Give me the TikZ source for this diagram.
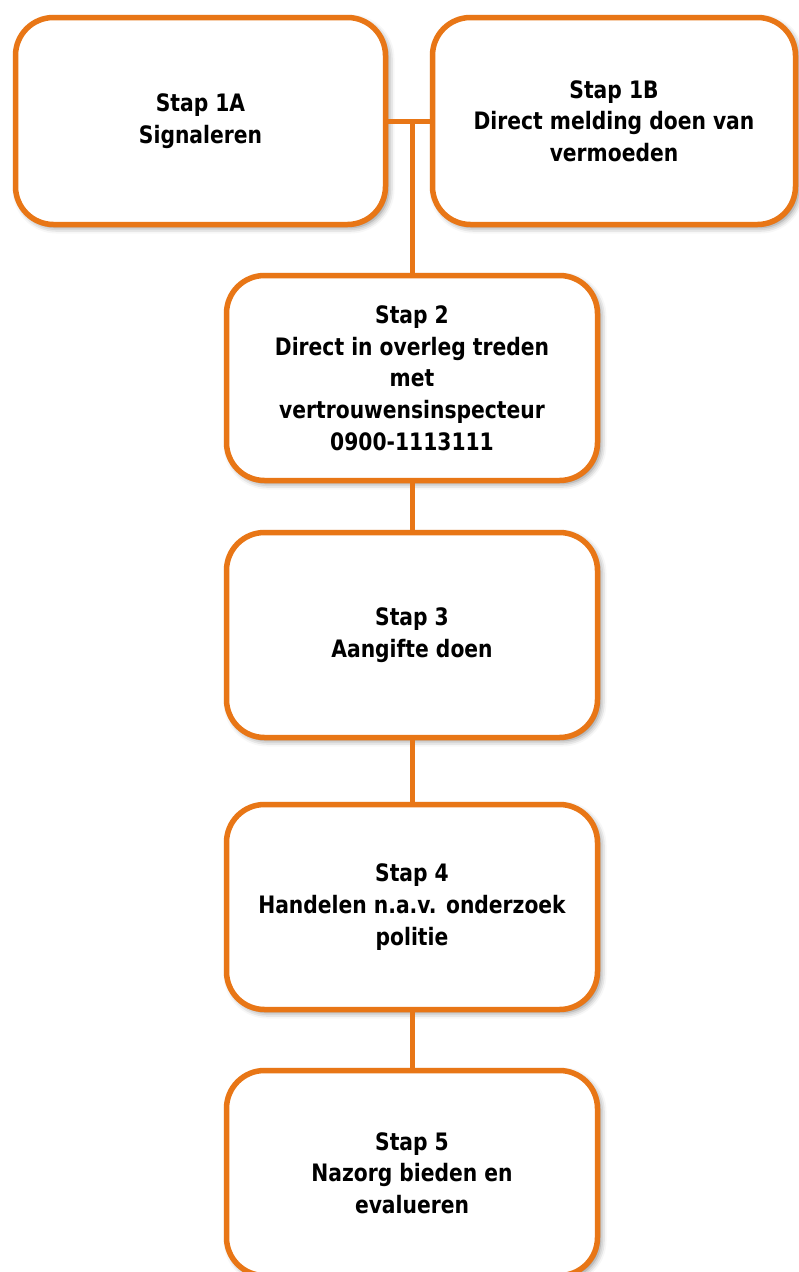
\documentclass[tikz,border=0pt]{standalone}
\usepackage{fontspec}
\setmainfont{DejaVu Sans}[FakeStretch=0.845]
\usetikzlibrary{shadows.blur}
\definecolor{orangeline}{RGB}{232,118,22}
\tikzset{
  stepbox/.style={draw=orangeline, line width=5.5pt, fill=white, rounded corners=38pt,
    align=center, inner sep=0pt, font=\bfseries\fontsize{24}{31.7}\selectfont,
    blur shadow={shadow xshift=3pt, shadow yshift=-3pt, shadow blur radius=6pt, shadow opacity=50}},
  link/.style={draw=orangeline, line width=5pt}
}
\begin{document}
\begin{tikzpicture}[x=1pt,y=-1pt]
\useasboundingbox (0,0) rectangle (799,1272);
\node[stepbox, minimum width=370pt, minimum height=207pt] (s1a) at (200.5,121) {Stap 1A\\Signaleren};
\node[stepbox, minimum width=363pt, minimum height=207pt] (s1b) at (614,121) {Stap 1B\\Direct melding doen van\\vermoeden};
\node[stepbox, minimum width=371pt, minimum height=205pt] (s2) at (412,378) {Stap 2\\Direct in overleg treden\\met\\vertrouwensinspecteur\\0900-1113111};
\node[stepbox, minimum width=371pt, minimum height=205pt] (s3) at (412,635) {Stap 3\\Aangifte doen};
\node[stepbox, minimum width=371pt, minimum height=205pt] (s4) at (412,907) {Stap 4\\Handelen n.a.v. onderzoek\\politie};
\node[stepbox, minimum width=371pt, minimum height=205pt] (s5) at (412,1173) {Stap 5\\Nazorg bieden en\\evalueren};
\coordinate (j) at (412,121);
\draw[link] (s1a.east) -- (s1b.west);
\draw[link] (j) -- (s2.north);
\draw[link] (s2.south) -- (s3.north);
\draw[link] (s3.south) -- (s4.north);
\draw[link] (s4.south) -- (s5.north);
\end{tikzpicture}
\end{document}
